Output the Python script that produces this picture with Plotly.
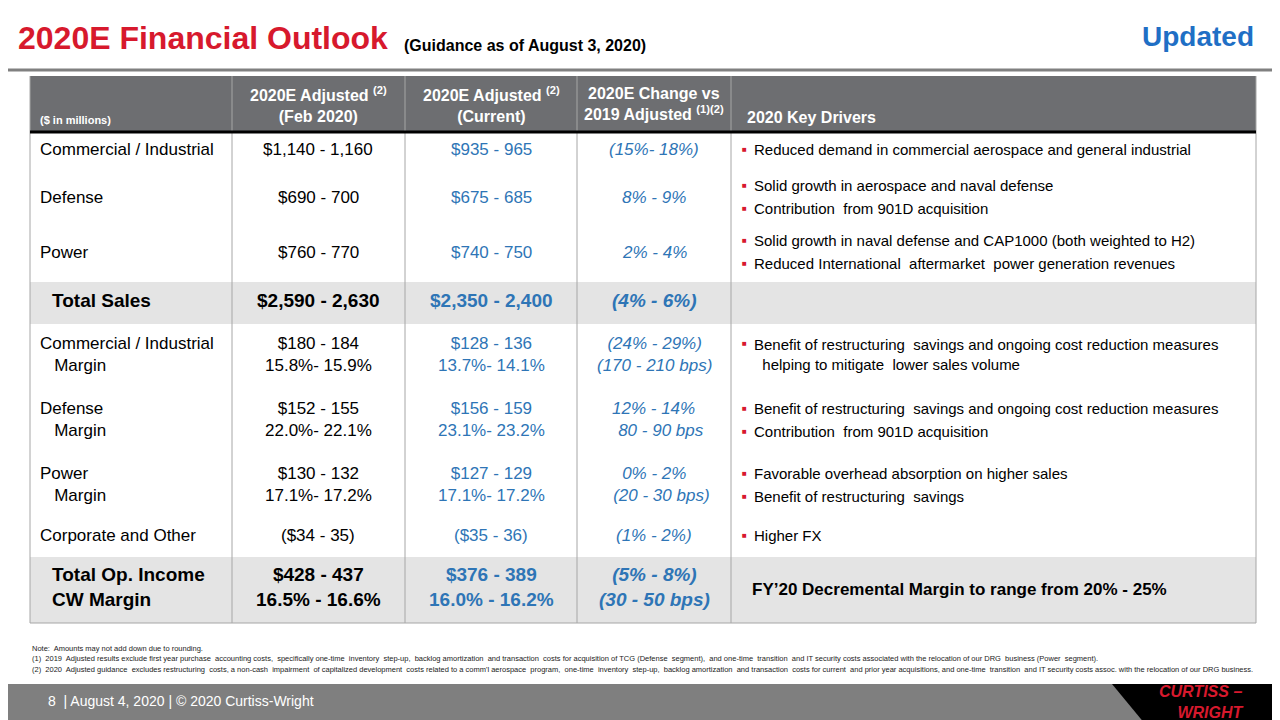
import plotly.graph_objects as go

FONT = "Liberation Sans Narrow, Arial Narrow, Liberation Sans, sans-serif"
RED = "#D7192D"
BLUE = "#2E75B6"
HDR = "#6D6E71"
BAND = "#E4E4E4"

# column headers
headers = ["($ in millions)", "2020E Adjusted <sup>(2)</sup><br>(Feb 2020)",
           "2020E Adjusted <sup>(2)</sup><br>(Current)",
           "2020E Change vs<br>2019 Adjusted <sup>(1)(2)</sup>", "2020 Key Drivers"]

# rows: label, feb, current, change, drivers
labels = ["Commercial / Industrial", "Defense", "Power", "Total Sales",
          "Commercial / Industrial<br>   Margin", "Defense<br>   Margin", "Power<br>   Margin",
          "Corporate and Other", "Total Op. Income<br>CW Margin"]
feb = ["$1,140 - 1,160", "$690 - 700", "$760 - 770", "$2,590 - 2,630",
       "$180 - 184<br>15.8%- 15.9%", "$152 - 155<br>22.0%- 22.1%", "$130 - 132<br>17.1%- 17.2%",
       "($34 - 35)", "$428 - 437<br>16.5% - 16.6%"]
current = ["$935 - 965", "$675 - 685", "$740 - 750", "$2,350 - 2,400",
           "$128 - 136<br>13.7%- 14.1%", "$156 - 159<br>23.1%- 23.2%", "$127 - 129<br>17.1%- 17.2%",
           "($35 - 36)", "$376 - 389<br>16.0% - 16.2%"]
change = ["(15%- 18%)", "8% - 9%", "2% - 4%", "(4% - 6%)",
          "(24% - 29%)<br>(170 - 210 bps)", "12% - 14%<br>   80 - 90 bps", "0% - 2%<br>   (20 - 30 bps)",
          "(1% - 2%)", "(5% - 8%)<br>(30 - 50 bps)"]
drivers = [
    ["Reduced demand in commercial aerospace and general industrial"],
    ["Solid growth in aerospace and naval defense", "Contribution  from 901D acquisition"],
    ["Solid growth in naval defense and CAP1000 (both weighted to H2)",
     "Reduced International  aftermarket  power generation revenues"],
    [],
    ["Benefit of restructuring  savings and ongoing cost reduction measures<br>  helping to mitigate  lower sales volume"],
    ["Benefit of restructuring  savings and ongoing cost reduction measures",
     "Contribution  from 901D acquisition"],
    ["Favorable overhead absorption on higher sales", "Benefit of restructuring  savings"],
    ["Higher FX"],
    [],
]
total_rows = [3, 8]
row_edges = [132, 172, 228, 282, 324, 390, 455, 520, 557, 623]
col_edges = [30, 232, 405, 577, 731, 1256]

footnotes = [
    "Note:  Amounts may not add down due to rounding.",
    "(1)  2019  Adjusted results exclude first year purchase  accounting costs,  specifically one-time  inventory  step-up,  backlog amortization  and transaction  costs for acquisition of TCG (Defense  segment),  and one-time  transition  and IT security costs associated with the relocation of our DRG  business (Power  segment).",
    "(2)  2020  Adjusted guidance  excludes restructuring  costs, a non-cash  impairment  of capitalized development  costs related to a comm'l aerospace  program,  one-time  inventory  step-up,  backlog amortization  and transaction  costs for current  and prior year acquisitions, and one-time  transition  and IT security costs assoc. with the relocation of our DRG business.",
]

fig = go.Figure()
shapes = []
ann = []

def text(x, y, t, size=18, color="black", bold=False, italic=False, xa="left", ya="middle"):
    if bold:
        t = "<b>" + t + "</b>"
    if italic:
        t = "<i>" + t + "</i>"
    ann.append(dict(x=x, y=y, text=t, showarrow=False, xanchor=xa, yanchor=ya, align=xa,
                    font=dict(family=FONT, size=size, color=color)))

# title
text(16, 38, "2020E Financial Outlook", size=32, color=RED, bold=True)
text(402, 45, "(Guidance as of August 3, 2020)", size=16, bold=True)
text(1256, 36, "Updated", size=28, color="#1F6FC5", bold=True, xa="right")
shapes.append(dict(type="line", x0=0, x1=1290, y0=70, y1=70, line=dict(color="#808080", width=3)))

# header
shapes.append(dict(type="rect", x0=30, x1=1256, y0=76, y1=131, fillcolor=HDR, line=dict(width=0)))
text(38, 120, headers[0], size=11, color="white", bold=True)
for i in (1, 2, 3):
    text((col_edges[i] + col_edges[i + 1]) / 2, 104, headers[i], size=16, color="white", bold=True, xa="center")
text(745, 117, headers[4], size=16, color="white", bold=True)

# total bands
for r in total_rows:
    shapes.append(dict(type="rect", x0=30, x1=1256, y0=row_edges[r], y1=row_edges[r + 1],
                       fillcolor=BAND, line=dict(width=0)))

# grid
for x in col_edges:
    shapes.append(dict(type="line", x0=x, x1=x, y0=76, y1=623, line=dict(color="#A6A6A6", width=1)))
shapes.append(dict(type="line", x0=30, x1=1256, y0=132, y1=132, line=dict(color="black", width=3)))
shapes.append(dict(type="line", x0=30, x1=1256, y0=623, y1=623, line=dict(color="#A6A6A6", width=1)))

for r in range(len(labels)):
    yc = (row_edges[r] + row_edges[r + 1]) / 2 - 3
    big = r in total_rows
    sz = 19 if big else 17
    lx = 50 if big else 38
    text(lx, yc, labels[r], size=sz, bold=big)
    text(318, yc, feb[r], size=sz, bold=big, xa="center")
    text(491, yc, current[r], size=sz, bold=big, color=BLUE, xa="center")
    text(654, yc, change[r], size=sz, bold=big, color=BLUE, italic=True, xa="center")
    d = drivers[r]
    if len(d) == 1:
        text(740, yc - (11 if "<br>" in d[0] else 0), "■", size=8, color=RED)
        text(752, yc, d[0], size=15)
    elif len(d) == 2:
        for k, t in enumerate(d):
            yy = yc - 11.5 + 23 * k
            text(740, yy, "■", size=8, color=RED)
            text(752, yy, t, size=15)
text(750, 589, "FY’20 Decremental Margin to range from 20% - 25%", size=17, bold=True)

# footnotes
for k, f in enumerate(footnotes):
    text(30, 648 + 10.5 * k, f, size=7.5, color="#222")

# footer
shapes.append(dict(type="rect", x0=0, x1=1290, y0=684, y1=730, fillcolor="#7F7F7F", line=dict(width=0)))
shapes.append(dict(type="path", path="M 1112 684 L 1290 684 L 1290 730 L 1150 730 Z",
                   fillcolor="black", line=dict(width=0)))
text(46, 701, "8  | August 4, 2020 | © 2020 Curtiss-Wright", size=14, color="white")
text(1246, 702, "CURTISS –<br>WRIGHT", size=16, color=RED, bold=True, italic=True, xa="right")

# page body adds an 8px offset; shrink the figure so it fits the window exactly
fig.update_layout(
    width=1272, height=712, margin=dict(l=0, r=0, t=0, b=0),
    paper_bgcolor="white", plot_bgcolor="white",
    xaxis=dict(range=[8, 1280], visible=False, fixedrange=True),
    yaxis=dict(range=[720, 8], visible=False, fixedrange=True),
    shapes=shapes, annotations=ann, showlegend=False,
)
fig.write_html("out.html")
